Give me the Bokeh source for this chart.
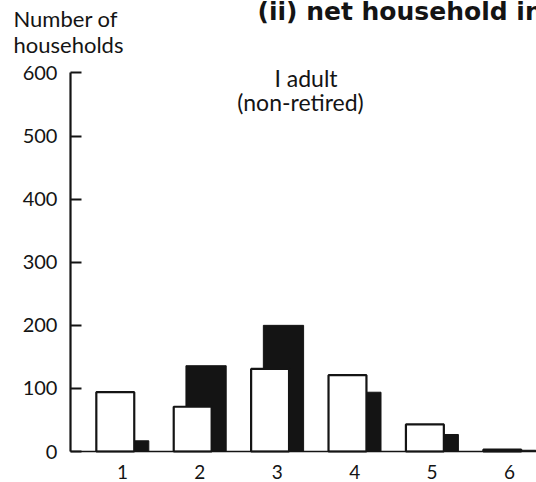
from bokeh.plotting import figure
from bokeh.models import ColumnDataSource, FixedTicker, Label, Range1d
from bokeh.transform import dodge
from bokeh.embed import file_html
from bokeh.resources import INLINE

# ---- data ----
groups = [1, 2, 3, 4, 5, 6]
white_vals = [94, 71, 131, 121, 43, 3]
black_vals = [17, 136, 200, 94, 27, 2]
y_ticks = [0, 100, 200, 300, 400, 500, 600]

title_text = "(ii) net household income"
y_title = ["Number of", "households"]
panel_label = ["I adult", "(non-retired)"]

INK = "#141414"
FONT = "Lato"

# axis positions (data units)
Y_AXIS_AT = 0.328
X_START, X_END = -0.576, 6.349
Y_START, Y_END = -49.1, 714.9
LIFT = 13.0  # raise texts a little (data units)

src = ColumnDataSource(dict(x=groups, white=white_vals, black=black_vals))

p = figure(width=536, height=482, output_backend="svg", toolbar_location=None,
           x_range=Range1d(X_START, X_END), y_range=Range1d(Y_START, Y_END),
           min_border=0, min_border_left=0, min_border_right=0,
           min_border_top=0, min_border_bottom=0)
p.outline_line_color = None
p.grid.visible = False
p.background_fill_color = "white"
p.border_fill_color = "white"

# black bars behind, white bars in front
p.vbar(x=dodge("x", 0.08, range=p.x_range), top="black", width=0.52, bottom=0,
       source=src, fill_color=INK, line_color=INK, line_width=1)
p.vbar(x=dodge("x", -0.093, range=p.x_range), top="white", width=0.49, bottom=0,
       source=src, fill_color="white", line_color=INK, line_width=2.2)

# y axis, fixed at the left edge of the bar area
ya = p.yaxis[0]
ya.fixed_location = Y_AXIS_AT
ya.bounds = (0, 600)
ya.ticker = FixedTicker(ticks=y_ticks)
ya.axis_line_width = 2.2
ya.axis_line_color = INK
ya.major_tick_in = 11
ya.major_tick_out = 0
ya.major_tick_line_width = 2
ya.major_tick_line_color = INK
ya.minor_tick_line_color = None
ya.major_label_standoff = 13
ya.major_label_text_font = FONT
ya.major_label_text_font_size = "20px"
ya.major_label_text_color = INK

# x axis, fixed at zero
xa = p.xaxis[0]
xa.fixed_location = 0
xa.bounds = (Y_AXIS_AT, X_END)
xa.ticker = FixedTicker(ticks=groups)
xa.axis_line_width = 1.6
xa.axis_line_color = INK
xa.major_tick_in = 0
xa.major_tick_out = 0
xa.minor_tick_line_color = None
xa.major_label_standoff = 13
xa.major_label_text_font = FONT
xa.major_label_text_font_size = "19px"
xa.major_label_text_color = INK

# texts
p.add_layout(Label(x=2.744, y=684.8 + LIFT, text=title_text, text_font="DejaVu Sans",
                   text_font_style="bold", text_font_size="25px",
                   text_color=INK, text_baseline="alphabetic", text_align="left"))
p.add_layout(Label(x=-0.408, y=672.6 + LIFT, text=y_title[0], text_font=FONT,
                   text_font_size="22px", text_color=INK,
                   text_baseline="alphabetic", text_align="left"))
p.add_layout(Label(x=-0.408, y=632.0 + LIFT, text=y_title[1], text_font=FONT,
                   text_font_size="22px", text_color=INK,
                   text_baseline="alphabetic", text_align="left"))
p.add_layout(Label(x=3.371, y=578.6 + LIFT, text=panel_label[0], text_font=FONT,
                   text_font_size="23px", text_color=INK,
                   text_baseline="alphabetic", text_align="center"))
p.add_layout(Label(x=3.300, y=540.6 + LIFT, text=panel_label[1], text_font=FONT,
                   text_font_size="23px", text_color=INK,
                   text_baseline="alphabetic", text_align="center"))

open("out.html", "w").write(file_html(p, INLINE))
